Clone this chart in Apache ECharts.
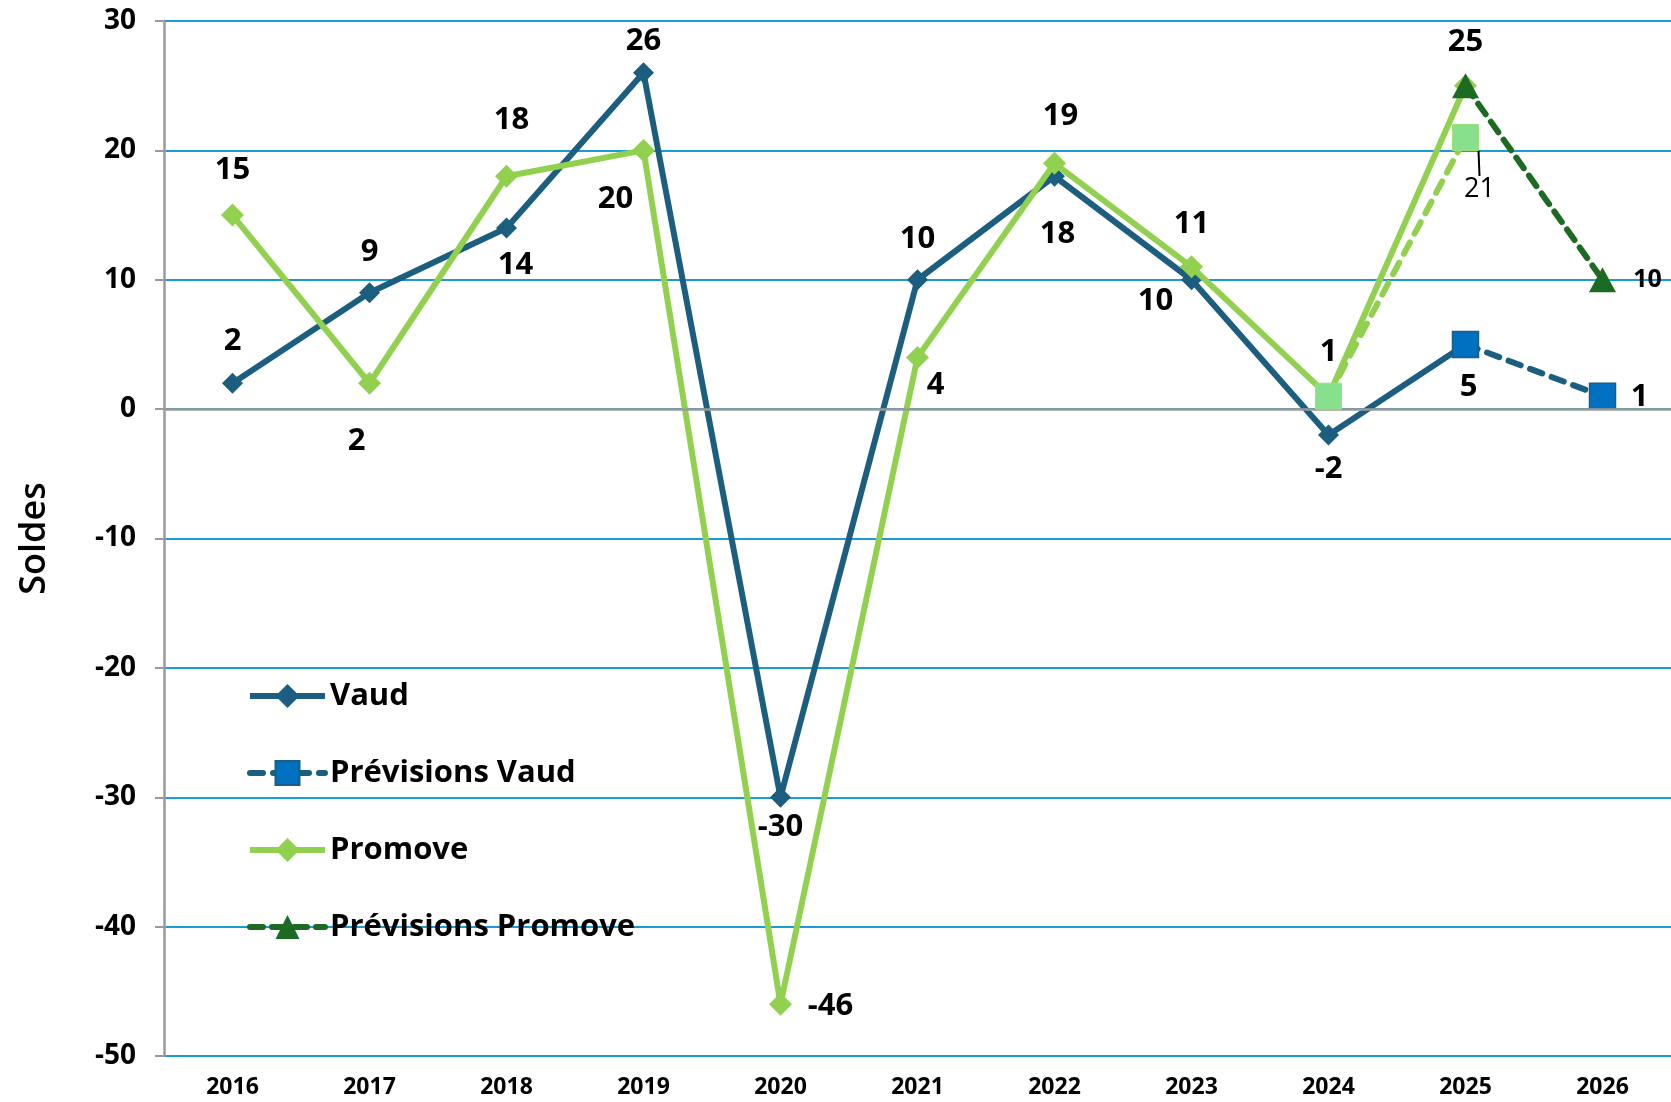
<!DOCTYPE html>
<html>
<head>
<meta charset="utf-8">
<script src="https://cdn.jsdelivr.net/npm/echarts@6/dist/echarts.min.js"></script>
<style>
html,body{margin:0;padding:0;background:#fff;}
#chart{width:1671px;height:1102px;}
</style>
</head>
<body>
<div id="chart"></div>
<script>
var categories = ['2016','2017','2018','2019','2020','2021','2022','2023','2024','2025','2026'];
var vaud = [2, 9, 14, 26, -30, 10, 18, 10, -2, 5, null];
var previsionsVaud = [null, null, null, null, null, null, null, null, null, 5, 1];
var promove = [15, 2, 18, 20, -46, 4, 19, 11, 1, 25, null];
var previsionsPromove = [null, null, null, null, null, null, null, null, null, 25, 10];
var anciennesPrevisionsPromove = [null, null, null, null, null, null, null, null, 1, 21, null];

// label offsets (style only)
var vaudLabelOffsets = [[0,-42],[0,-41],[9,37],[0,-32],[0,30],[0,-41],[3,58],[-36,21],[0,34],[3,43],null];
var promoveLabelOffsets = [[0,-45],[-13,58],[5,-56],[-28,49],[50,2],[18,28],[6,-47],[0,-43],[0,-44],[0,-44],null];

var FONT = 'Open Sans';
var bigLabel = {fontFamily: FONT, fontWeight: 'bold', fontSize: 31, color: '#000'};

function buildData(values, offsets){
  return values.map(function(v, i){
    if (v === null) return null;
    var off = offsets && offsets[i];
    if (!off) return {value: v, label: {show: false}};
    return {value: v, label: Object.assign({show: true, position: 'inside', offset: off, formatter: '{c}'}, bigLabel)};
  });
}

var vaudColor = '#1b5e7f';
var promoveColor = '#92d050';
var darkGreen = '#1d6b22';

var pvData = previsionsVaud.map(function(v, i){
  if (v === null) return null;
  if (i === 10) return {value: v, label: Object.assign({show: true, position: 'inside', offset: [37, 1], formatter: '{c}'}, bigLabel)};
  return {value: v, label: {show: false}};
});
var ppData = previsionsPromove.map(function(v, i){
  if (v === null) return null;
  if (i === 10) return {value: v, label: {show: true, position: 'inside', offset: [45, 0], formatter: '{c}', fontFamily: FONT, fontWeight: 'bold', fontSize: 25, color: '#000'}};
  return {value: v, label: {show: false}};
});
var oldData = anciennesPrevisionsPromove.map(function(v, i){
  if (v === null) return null;
  if (i === 9) return {value: v, label: {show: true, position: 'inside', formatter: '{c}', fontFamily: FONT, fontWeight: 'normal', fontSize: 27, color: '#000'}};
  return {value: v, label: {show: false}};
});

var chart = echarts.init(document.getElementById('chart'), null, {renderer: 'canvas'});
chart.setOption({
  animation: false,
  backgroundColor: '#ffffff',
  grid: {left: 164, right: 0, top: 21, bottom: 46, containLabel: false},
  legend: {
    orient: 'vertical',
    left: 242,
    top: 675,
    itemWidth: 75,
    itemHeight: 30,
    itemGap: 45,
    lineStyle: {width: 6},
    textStyle: {fontFamily: FONT, fontWeight: 'bold', fontSize: 31, color: '#000', lineHeight: 32},
    data: ['Vaud', 'Prévisions Vaud', 'Promove', 'Prévisions Promove']
  },
  xAxis: {
    type: 'category',
    data: categories,
    boundaryGap: true,
    axisLine: {show: false},
    axisTick: {show: false},
    axisLabel: {fontFamily: FONT, fontWeight: 'bold', fontSize: 23, color: '#000', margin: 20},
    splitLine: {show: false}
  },
  yAxis: {
    type: 'value',
    min: -50,
    max: 30,
    interval: 10,
    name: 'Soldes',
    nameLocation: 'middle',
    nameGap: 111,
    nameTextStyle: {fontFamily: FONT, fontWeight: 600, fontSize: 36, color: '#000'},
    axisLine: {show: true, lineStyle: {color: '#9a9a9a', width: 2.5}},
    axisTick: {show: true, length: 9, lineStyle: {color: '#9a9a9a', width: 2}},
    axisLabel: {fontFamily: FONT, fontWeight: 'bold', fontSize: 28, color: '#000', margin: 28},
    splitLine: {show: true, lineStyle: {color: '#1a9ad6', width: 2}}
  },
  series: [
    {
      name: 'Vaud',
      type: 'line',
      data: buildData(vaud, vaudLabelOffsets),
      symbol: 'diamond',
      symbolSize: 21,
      lineStyle: {color: vaudColor, width: 6},
      itemStyle: {color: vaudColor},
      z: 2,
      markLine: {
        silent: true,
        symbol: 'none',
        label: {show: false},
        lineStyle: {color: '#9a9a9a', width: 2.5, type: 'solid'},
        data: [{yAxis: 0}]
      }
    },
    {
      name: 'Prévisions Vaud',
      type: 'line',
      data: pvData,
      symbol: 'rect',
      symbolSize: 26,
      lineStyle: {color: vaudColor, width: 6, type: [13, 10], cap: 'round'},
      itemStyle: {color: '#0070c0', borderColor: vaudColor, borderWidth: 1.5},
      z: 3
    },
    {
      name: 'Promove',
      type: 'line',
      data: buildData(promove, promoveLabelOffsets),
      symbol: 'diamond',
      symbolSize: 23,
      lineStyle: {color: promoveColor, width: 6},
      itemStyle: {color: promoveColor},
      z: 4
    },
    {
      name: 'Anciennes prévisions Promove',
      type: 'line',
      data: oldData,
      symbol: 'rect',
      symbolSize: 26,
      lineStyle: {color: promoveColor, width: 6, type: [13, 10], cap: 'round'},
      itemStyle: {color: '#86e08c', borderColor: '#9ee07a', borderWidth: 1},
      labelLine: {show: true, lineStyle: {color: '#000', width: 2}},
      labelLayout: function (params) {
        if (params.dataIndex === 9) return {dx: 14, dy: 52};
        return {};
      },
      z: 5
    },
    {
      name: 'Prévisions Promove',
      type: 'line',
      data: ppData,
      symbol: 'triangle',
      symbolSize: [27, 25],
      lineStyle: {color: darkGreen, width: 6, type: [13, 9], cap: 'round'},
      itemStyle: {color: darkGreen},
      z: 6
    }
  ]
});
</script>
</body>
</html>
